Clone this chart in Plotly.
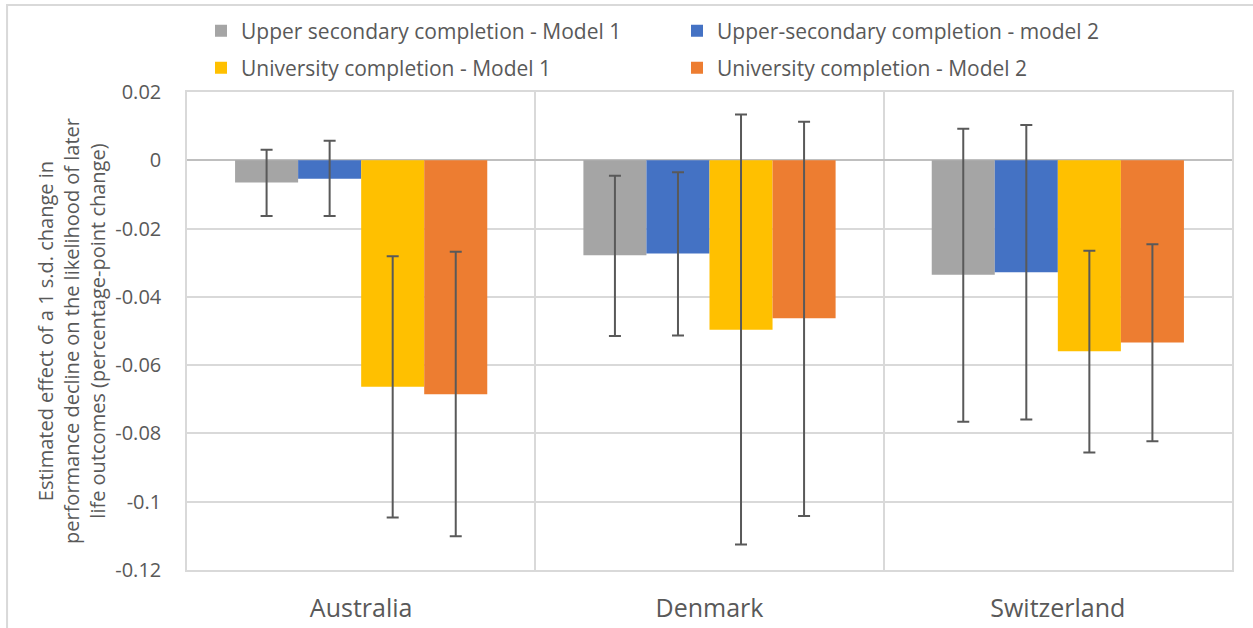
import plotly.graph_objects as go

countries = ["Australia", "Denmark", "Switzerland"]
series_names = [
    "Upper secondary completion - Model 1",
    "Upper-secondary completion - model 2",
    "University completion - Model 1",
    "University completion - Model 2",
]
colors = ["#A5A5A5", "#4472C4", "#FFC000", "#ED7D31"]

upper_m1 = [-0.0065, -0.0278, -0.0335]
upper_m1_hi = [0.0031, -0.0045, 0.0092]
upper_m1_lo = [-0.0163, -0.0515, -0.0766]

upper_m2 = [-0.0054, -0.0273, -0.0328]
upper_m2_hi = [0.0057, -0.0035, 0.0103]
upper_m2_lo = [-0.0163, -0.0513, -0.0759]

uni_m1 = [-0.0663, -0.0496, -0.0559]
uni_m1_hi = [-0.0281, 0.0134, -0.0265]
uni_m1_lo = [-0.1046, -0.1125, -0.0856]

uni_m2 = [-0.0685, -0.0463, -0.0534]
uni_m2_hi = [-0.0268, 0.0113, -0.0246]
uni_m2_lo = [-0.1101, -0.1042, -0.0823]

y_ticks = [0.02, 0, -0.02, -0.04, -0.06, -0.08, -0.1, -0.12]
y_ticktext = ["0.02", "0", "-0.02", "-0.04", "-0.06", "-0.08", "-0.1", "-0.12"]

series = [
    (upper_m1, upper_m1_hi, upper_m1_lo),
    (upper_m2, upper_m2_hi, upper_m2_lo),
    (uni_m1, uni_m1_hi, uni_m1_lo),
    (uni_m2, uni_m2_hi, uni_m2_lo),
]

FONT = "Open Sans, Liberation Sans, Arial, sans-serif"
TXT = "#595959"
GRID = "#d9d9d9"

fig = go.Figure()
for i, ((vals, hi, lo), name, col) in enumerate(zip(series, series_names, colors)):
    fig.add_trace(go.Bar(
        x=countries,
        y=vals,
        name=name,
        marker=dict(color=col, line=dict(width=0)),
        error_y=dict(
            type="data",
            symmetric=False,
            array=[h - v for h, v in zip(hi, vals)],
            arrayminus=[v - l for v, l in zip(vals, lo)],
            color="#595959",
            thickness=2,
            width=6,
        ),
        legend="legend" if i < 2 else "legend2",
    ))

legend_common = dict(
    orientation="h",
    xanchor="left",
    yanchor="middle",
    x=0.0134,
    yref="container",
    font=dict(family=FONT, size=21, color=TXT),
    bgcolor="rgba(0,0,0,0)",
    entrywidthmode="pixels",
    entrywidth=431,
    itemclick=False,
    itemdoubleclick=False,
)

fig.update_layout(
    width=1253,
    height=628,
    autosize=False,
    margin=dict(l=187, r=21, t=92, b=58, autoexpand=False),
    paper_bgcolor="white",
    plot_bgcolor="white",
    barmode="group",
    bargap=0.276,
    bargroupgap=0,
    font=dict(family=FONT, color=TXT),
    legend=dict(legend_common, y=0.9506),
    legend2=dict(legend_common, y=0.8917),
    xaxis=dict(
        type="category",
        tickson="boundaries",
        showgrid=True,
        gridcolor=GRID,
        gridwidth=1.5,
        showline=True,
        linecolor=GRID,
        linewidth=1.5,
        mirror=True,
        ticks="",
        tickfont=dict(family=FONT, size=25, color=TXT),
        ticklabelstandoff=15,
        automargin=False,
    ),
    yaxis=dict(
        range=[-0.12, 0.02],
        tickvals=y_ticks,
        ticktext=y_ticktext,
        showgrid=True,
        gridcolor=GRID,
        gridwidth=1.5,
        zeroline=True,
        zerolinecolor="#bfbfbf",
        zerolinewidth=2,
        showline=True,
        linecolor=GRID,
        linewidth=1.5,
        mirror=True,
        ticks="",
        tickfont=dict(family=FONT, size=20, color=TXT),
        ticklabelstandoff=20,
        automargin=False,
    ),
    annotations=[dict(
        text="Estimated effect of a 1 s.d. change in<br>performance decline on the likelihood of later<br>life outcomes (percentage-point change)",
        xref="paper", yref="paper",
        x=-0.111, y=0.5,
        xanchor="center", yanchor="middle",
        textangle=-90,
        showarrow=False,
        font=dict(family=FONT, size=20, color=TXT),
    )],
    shapes=[dict(
        type="rect", xref="paper", yref="paper",
        x0=-0.1722, y0=-1, x1=2, y1=1.182,
        line=dict(color=GRID, width=2),
        fillcolor="rgba(0,0,0,0)",
        layer="below",
    )],
    showlegend=True,
)

fig.write_html(
    "out.html",
    config={"responsive": False, "displayModeBar": False},
    post_script="document.body.style.margin='0';document.body.style.padding='0';document.documentElement.style.overflow='hidden';",
)
